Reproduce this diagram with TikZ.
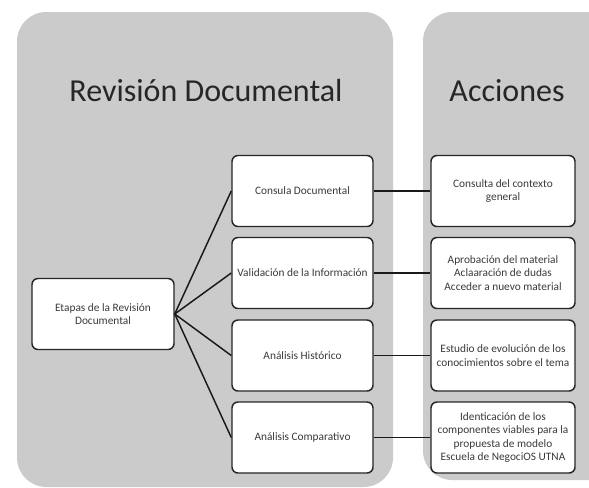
\documentclass[tikz,border=0pt]{standalone}
\usepackage{fontspec}
\setmainfont{Carlito}
\definecolor{panel}{HTML}{CBCBCB}
\definecolor{txt}{HTML}{3A3A3A}
\begin{document}
\begin{tikzpicture}[x=0.75pt,y=-0.75pt,
  panelbox/.style={fill=panel,draw=none,rounded corners=22pt},
  title/.style={font=\fontsize{24pt}{28pt}\selectfont,text=black!85},
  box/.style={draw=black!85,line width=1.1pt,fill=white,rounded corners=4.5pt,
    minimum width=141*0.75pt,minimum height=71*0.75pt,align=center,
    font=\fontsize{8.5pt}{10pt}\selectfont,text=txt,inner sep=1pt},
  conn/.style={draw=black!90,line width=1.1pt}]
\useasboundingbox (0,0) rectangle (589,487);
\fill[white] (0,0) rectangle (589,487);
\path[panelbox] (17,12) rectangle (393,487);
\path[panelbox] (423,12) rectangle (625,480);
\node[title] (t1) at (206,91) {Revisión Documental};
\node[title] (t2) at (507,91) {Acciones};
\node[box,minimum width=142*0.75pt] (e) at (103,314) {Etapas de la Revisión\\Documental};
\node[box] (l1) at (302.5,191) {Consula Documental};
\node[box] (l2) at (302.5,273) {Validación de la Información};
\node[box] (l3) at (302.5,355.5) {Análisis Histórico};
\node[box] (l4) at (302.5,437.5) {Análisis Comparativo};
\node[box,minimum width=144*0.75pt] (r1) at (503,191) {Consulta del contexto\\general};
\node[box,minimum width=144*0.75pt] (r2) at (503,273) {Aprobación del material\\Aclaaración de dudas\\Acceder a nuevo material};
\node[box,minimum width=144*0.75pt] (r3) at (503,355.5) {Estudio de evolución de los\\conocimientos sobre el tema};
\node[box,minimum width=144*0.75pt] (r4) at (503,437.5) {Identicación de los\\componentes viables para la\\propuesta de modelo\\Escuela de NegociOS UTNA};
\foreach \n in {l1,l2,l3,l4} \draw[conn] (e.east) -- (\n.west);
\draw[conn] (l1) -- (r1);
\draw[conn] (l2) -- (r2);
\draw[conn] (l3) -- (r3);
\draw[conn] (l4) -- (r4);
\end{tikzpicture}
\end{document}
